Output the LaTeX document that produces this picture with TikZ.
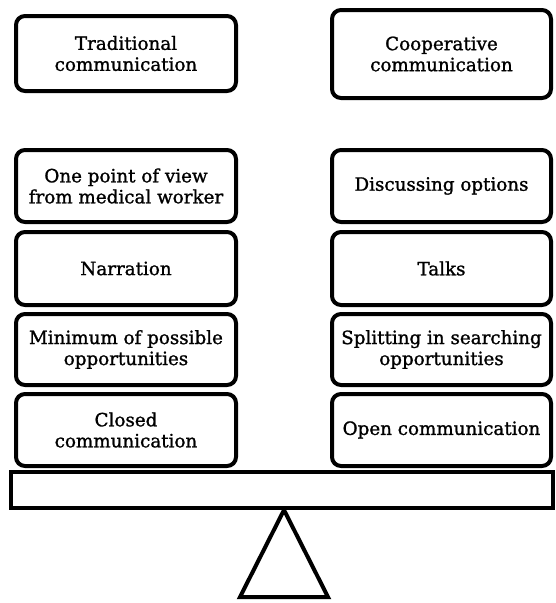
\documentclass[tikz,border=0pt]{standalone}
\usepackage{fontspec}
\setmainfont{DejaVu Serif}[FakeBold=1.2]
\begin{document}
\begin{tikzpicture}[x=1pt,y=-1pt,
  cbox/.style={draw=black, line width=4pt, rounded corners=9pt, fill=white,
    inner sep=0pt, align=center, font=\fontsize{18.3}{21}\selectfont},
  beamstyle/.style={draw=black, line width=4pt, fill=white, inner sep=0pt},
  fulcrumstyle/.style={draw=black, line width=4pt, line join=miter}]
\useasboundingbox (0,0) rectangle (555,603);
% title boxes
\node[cbox, minimum width=220pt, minimum height=75pt] (t1) at (126,53.5) {Traditional\\communication};
\node[cbox, minimum width=219pt, minimum height=88pt] (t2) at (441.5,54) {Cooperative\\communication};
% left stack
\node[cbox, minimum width=220pt, minimum height=72pt] (l1) at (126,186) {One point of view\\from medical worker};
\node[cbox, minimum width=220pt, minimum height=73pt] (l2) at (126,268.5) {Narration};
\node[cbox, minimum width=220pt, minimum height=71pt] (l3) at (126,349.5) {Minimum of possible\\opportunities};
\node[cbox, minimum width=220pt, minimum height=72pt] (l4) at (126,430) {Closed\\communication};
% right stack
\node[cbox, minimum width=219pt, minimum height=72pt] (r1) at (441.5,186) {Discussing options};
\node[cbox, minimum width=219pt, minimum height=73pt] (r2) at (441.5,268.5) {Talks};
\node[cbox, minimum width=219pt, minimum height=71pt] (r3) at (441.5,349.5) {Splitting in searching\\opportunities};
\node[cbox, minimum width=219pt, minimum height=72pt] (r4) at (441.5,430) {Open communication};
% fulcrum
\coordinate (apex) at (284,510);
\coordinate (bl) at (240,597);
\coordinate (br) at (328,597);
\draw[fulcrumstyle] (apex) -- (bl) -- (br) -- cycle;
% beam
\node[beamstyle, minimum width=542pt, minimum height=36pt] (beam) at (282,490) {};
\end{tikzpicture}
\end{document}
